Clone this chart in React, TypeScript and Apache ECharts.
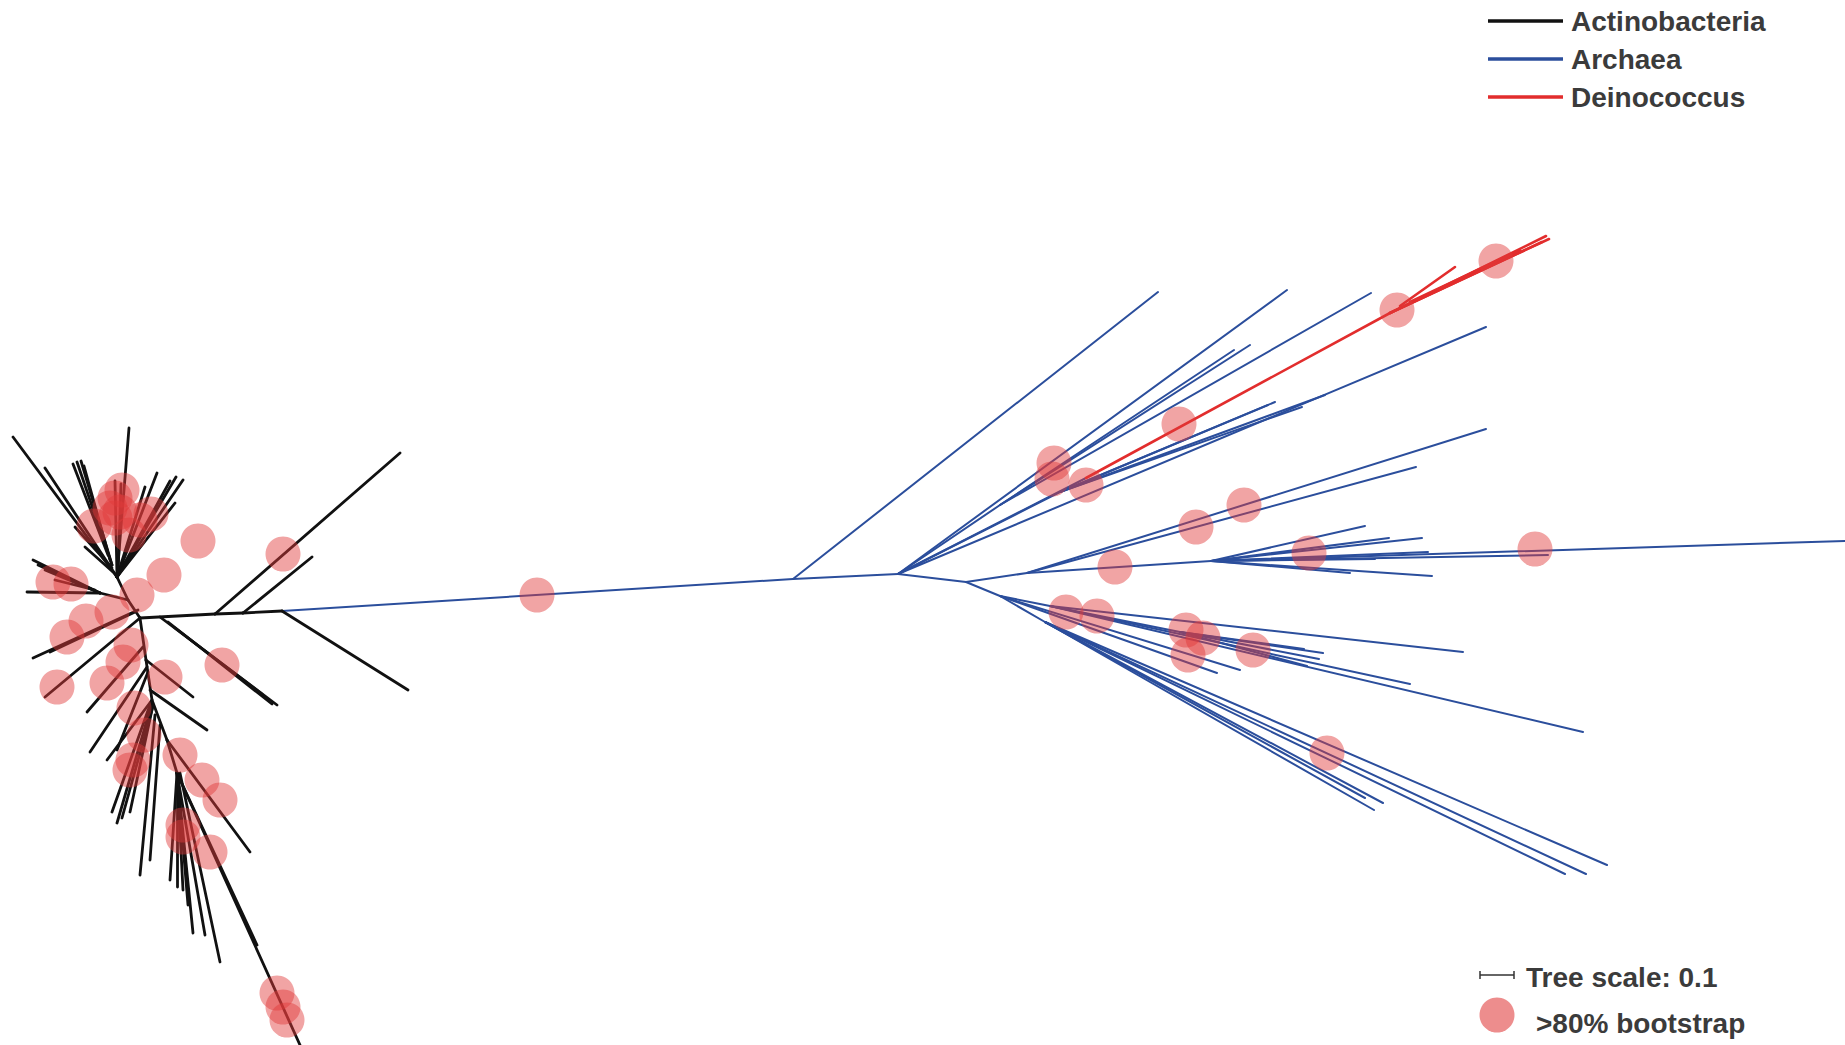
import { useEffect, useRef } from "react";
import * as echarts from "echarts";

// Canvas size of the tree layout (layout units = screen pixels)
const WIDTH = 1845;
const HEIGHT = 1045;

// Unrooted tree layout: each branch is [x1, y1, x2, y2] in layout units.
const actinoBranches: number[][] = [
  // stem towards the archaeal side
  [282, 611, 243, 613], [243, 613, 215, 614], [215, 614, 140, 618],
  [243, 613, 312, 557], [215, 614, 400, 453], [282, 611, 408, 690],
  [160, 617, 277, 705], [168, 622, 272, 704], [175, 628, 262, 694],
  // upper crown
  [140, 618, 128, 600], [128, 600, 117, 577],
  [117, 577, 129, 428], [117, 577, 13, 437], [117, 577, 45, 468],
  [112, 565, 77, 462], [112, 565, 81, 461], [110, 560, 84, 466], [108, 555, 73, 464],
  [112, 568, 75, 527], [113, 572, 85, 547],
  [117, 577, 183, 480], [117, 577, 176, 477], [117, 577, 170, 481],
  [117, 577, 157, 473], [117, 577, 145, 487], [117, 577, 175, 503],
  [117, 577, 115, 481], [118, 575, 121, 484],
  // left tuft
  [128, 600, 100, 593], [100, 593, 27, 592], [100, 593, 33, 560],
  [100, 593, 38, 565], [100, 593, 45, 570], [95, 590, 55, 580],
  // lower-left spray
  [138, 610, 33, 658], [135, 612, 50, 652], [140, 618, 45, 697],
  [143, 647, 87, 712], [147, 667, 90, 752], [148, 672, 117, 750],
  // descending spine
  [140, 618, 146, 660], [146, 660, 152, 700], [152, 700, 167, 740],
  [167, 740, 177, 773], [177, 773, 300, 1045],
  [146, 660, 193, 697], [150, 690, 207, 730], [152, 700, 107, 760],
  [152, 703, 117, 823], [153, 705, 130, 812], [153, 706, 122, 818], [151, 702, 112, 812],
  [155, 715, 140, 875], [160, 725, 150, 860],
  [167, 740, 250, 852],
  [177, 773, 177, 887], [177, 773, 183, 890], [177, 773, 193, 933],
  [177, 773, 205, 935], [177, 773, 188, 905], [177, 773, 170, 880],
  [180, 773, 220, 962], [177, 773, 257, 945],
];

const archaeaBranches: number[][] = [
  // long internal branch
  [282, 611, 793, 579], [793, 579, 898, 574], [898, 574, 966, 582],
  [793, 579, 1158, 292],
  // upper fan
  [898, 574, 1287, 290],
  [898, 574, 1000, 505], [1000, 505, 1234, 350], [1000, 505, 1250, 345], [1000, 505, 1371, 293],
  [898, 574, 1086, 478],
  [898, 574, 1486, 327],
  [898, 574, 1060, 492], [1060, 492, 1275, 402], [1060, 492, 1302, 407],
  [1060, 492, 1325, 395], [1060, 492, 1268, 405],
  // middle fan
  [966, 582, 1027, 573], [1027, 573, 1486, 429], [1027, 573, 1416, 467],
  [1027, 573, 1211, 561],
  [1211, 561, 1365, 526], [1211, 561, 1422, 538], [1211, 561, 1389, 538],
  [1211, 561, 1428, 552], [1211, 561, 1375, 559], [1211, 561, 1350, 573],
  [1211, 561, 1432, 576], [1211, 561, 1548, 555], [1211, 561, 1845, 541],
  // lower fans
  [966, 582, 1000, 596], [1000, 596, 1050, 606], [1050, 606, 1463, 652],
  [1050, 606, 1180, 632], [1180, 632, 1323, 653], [1180, 632, 1304, 649],
  [1180, 632, 1319, 659], [1180, 632, 1307, 666],
  [1000, 596, 1240, 670], [1000, 596, 1217, 673],
  [1050, 606, 1410, 684], [1050, 606, 1583, 732],
  [1000, 596, 1045, 622],
  [1045, 622, 1365, 798], [1045, 622, 1374, 810], [1045, 622, 1383, 803],
  [1045, 622, 1607, 865], [1045, 622, 1586, 874], [1045, 622, 1565, 874],
];

const deinococcusBranches: number[][] = [
  [1086, 478, 1390, 313],
  [1390, 313, 1546, 236], [1390, 313, 1542, 242], [1390, 313, 1549, 239],
  [1400, 306, 1455, 267], [1410, 302, 1520, 250],
];

// Nodes with >80% bootstrap support
const bootstrapNodes: number[][] = [
  // Actinobacteria
  [283, 554], [198, 541], [164, 575], [137, 595], [53, 582], [71, 584],
  [115, 498], [115, 518], [151, 514], [129, 535], [94, 526], [122, 490],
  [110, 508], [120, 512], [140, 520],
  [112, 612], [86, 621], [67, 637], [131, 645], [123, 662], [57, 687],
  [107, 683], [165, 677], [222, 665], [134, 708], [144, 735], [130, 770],
  [133, 760], [180, 755], [202, 780], [220, 800], [183, 825], [183, 837],
  [210, 852], [277, 993], [283, 1007], [287, 1020],
  // Archaea / Deinococcus
  [537, 595], [1054, 463], [1052, 479], [1086, 485], [1179, 424], [1397, 310],
  [1496, 261], [1244, 505], [1196, 527], [1309, 553], [1535, 549], [1115, 567],
  [1066, 612], [1097, 616], [1186, 630], [1203, 638], [1188, 655], [1253, 650],
  [1327, 753],
];

const groupNames = ["Actinobacteria", "Archaea", "Deinococcus"];
const groupColors = ["#111111", "#2b4e9c", "#e22d2d"];
const scaleLabel = "Tree scale: 0.1";
const scaleLength = 34; // layout units for 0.1 substitutions per site
const bootstrapLabel = ">80% bootstrap";

const bootstrapFill = "rgba(224, 58, 58, 0.58)";
const labelFont = 'bold 28px "Liberation Sans", Arial, sans-serif';
const labelColor = "#3b3b3b";

function branchSeries(branches: number[][], color: string, width: number, z: number) {
  return {
    type: "lines",
    coordinateSystem: "cartesian2d",
    silent: true,
    z,
    lineStyle: { color, width, opacity: 1, cap: "round" },
    data: branches.map((b) => ({ coords: [[b[0], b[1]], [b[2], b[3]]] })),
  };
}

export default function App() {
  const ref = useRef<HTMLDivElement>(null);

  useEffect(() => {
    if (!ref.current) return;
    const chart = echarts.init(ref.current, null, { renderer: "svg" });

    const legendX = 1488;
    const legendY = [21, 59, 97];
    const legendGraphics: any[] = [];
    groupNames.forEach((name, i) => {
      legendGraphics.push({
        type: "line",
        shape: { x1: legendX, y1: legendY[i], x2: legendX + 75, y2: legendY[i] },
        style: { stroke: groupColors[i], lineWidth: 3.5 },
      });
      legendGraphics.push({
        type: "text",
        x: legendX + 83,
        y: legendY[i],
        style: { text: name, font: labelFont, fill: labelColor, align: "left", verticalAlign: "middle" },
      });
    });

    const sx = 1480;
    const sy = 975;
    legendGraphics.push(
      { type: "line", shape: { x1: sx, y1: sy, x2: sx + scaleLength, y2: sy }, style: { stroke: "#333", lineWidth: 1.5 } },
      { type: "line", shape: { x1: sx, y1: sy - 4, x2: sx, y2: sy + 4 }, style: { stroke: "#333", lineWidth: 1.5 } },
      { type: "line", shape: { x1: sx + scaleLength, y1: sy - 4, x2: sx + scaleLength, y2: sy + 4 }, style: { stroke: "#333", lineWidth: 1.5 } },
      {
        type: "text",
        x: 1526,
        y: 977,
        style: { text: scaleLabel, font: labelFont, fill: labelColor, align: "left", verticalAlign: "middle" },
      },
      { type: "circle", shape: { cx: 1497, cy: 1015, r: 17.5 }, style: { fill: bootstrapFill } },
      {
        type: "text",
        x: 1536,
        y: 1023,
        style: { text: bootstrapLabel, font: labelFont, fill: labelColor, align: "left", verticalAlign: "middle" },
      }
    );

    chart.setOption({
      animation: false,
      backgroundColor: "#ffffff",
      grid: { left: 0, right: 0, top: 0, bottom: 0, containLabel: false },
      xAxis: { type: "value", min: 0, max: WIDTH, show: false },
      yAxis: { type: "value", min: 0, max: HEIGHT, inverse: true, show: false },
      series: [
        branchSeries(archaeaBranches, groupColors[1], 2, 2),
        branchSeries(actinoBranches, groupColors[0], 2.8, 3),
        branchSeries(deinococcusBranches, groupColors[2], 2.6, 4),
        {
          type: "scatter",
          silent: true,
          z: 10,
          symbol: "circle",
          symbolSize: 35,
          itemStyle: { color: bootstrapFill },
          data: bootstrapNodes,
        },
      ],
      graphic: legendGraphics,
    });

    return () => chart.dispose();
  }, []);

  return (
    <div
      ref={ref}
      style={{ position: "fixed", left: 0, top: 0, width: WIDTH, height: HEIGHT, background: "#fff" }}
    />
  );
}
